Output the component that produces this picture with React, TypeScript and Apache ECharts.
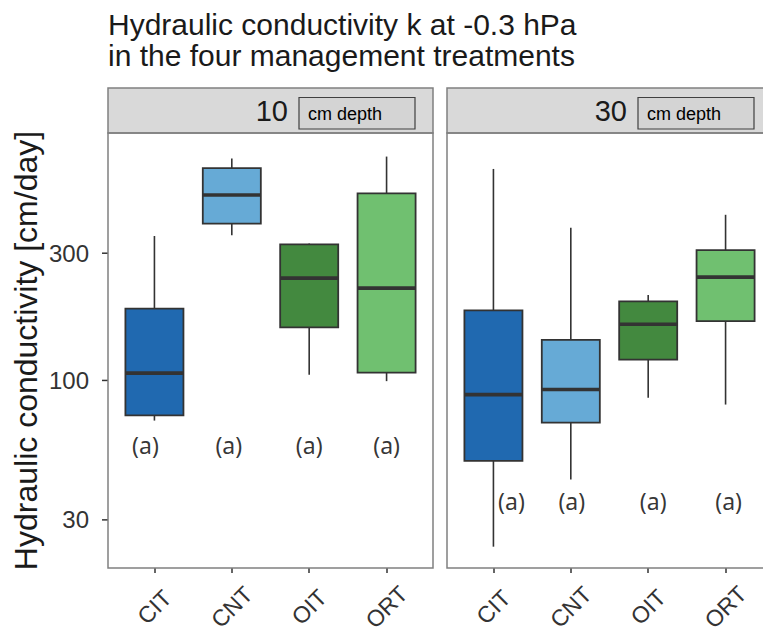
import React, { useEffect, useRef } from "react";
import * as echarts from "echarts";

const categories = ["CIT", "CNT", "OIT", "ORT"];
const boxColors = ["#2069b0", "#66aad6", "#43893f", "#70c070"];
// [min, Q1, median, Q3, max] in cm/day
const depth10 = [
  [70.7, 73.9, 106.5, 186, 348],
  [350, 387, 496, 625, 679],
  [105, 158, 242, 324, 326],
  [99.4, 107, 222, 503, 691],
];
const depth30 = [
  [23.8, 49.9, 88.5, 183, 621],
  [42.5, 69.5, 92.5, 142, 374],
  [86.1, 119.6, 162.4, 198, 209],
  [81.2, 167, 244, 308, 418],
];
const letters10 = ["(a)", "(a)", "(a)", "(a)"];
const letters30 = ["(a)", "(a)", "(a)", "(a)"];
const letterY10 = [57.4, 57.4, 57.4, 57.4];
const letterY30 = [35.4, 35.4, 35.4, 35.4];
const yTicks = [30, 100, 300];
const yTickLabels = ["30", "100", "300"];
const facetLabels = ["10", "30"];
const stripNote = "cm depth";

const FONT = "'Liberation Sans', Arial, Helvetica, sans-serif";

export default function App() {
  const ref = useRef<HTMLDivElement>(null);
  useEffect(() => {
    if (!ref.current) return;
    const chart = echarts.init(ref.current, null, { renderer: "svg" });

    const renderBox = (params: any, api: any) => {
      const x = api.value(0);
      const mn = api.value(1);
      const q1 = api.value(2);
      const md = api.value(3);
      const q3 = api.value(4);
      const mx = api.value(5);
      const band = api.size([1, 100], [x, 100])[0];
      const hw = band * 0.375;
      const pMin = api.coord([x, mn]);
      const pQ1 = api.coord([x, q1]);
      const pMd = api.coord([x, md]);
      const pQ3 = api.coord([x, q3]);
      const pMax = api.coord([x, mx]);
      const cx = pMd[0];
      const stroke = "#333333";
      return {
        type: "group",
        children: [
          { type: "line", shape: { x1: cx, y1: pMax[1], x2: cx, y2: pQ3[1] }, style: { stroke, lineWidth: 1.6 } },
          { type: "line", shape: { x1: cx, y1: pQ1[1], x2: cx, y2: pMin[1] }, style: { stroke, lineWidth: 1.6 } },
          {
            type: "rect",
            shape: { x: cx - hw, y: pQ3[1], width: 2 * hw, height: pQ1[1] - pQ3[1] },
            style: { fill: boxColors[x], stroke, lineWidth: 1.8 },
          },
          { type: "line", shape: { x1: cx - hw, y1: pMd[1], x2: cx + hw, y2: pMd[1] }, style: { stroke, lineWidth: 3.6 } },
        ],
      };
    };

    const panelW = 325;
    const unit = panelW / 4.2;
    const panels = [108, 447];
    const top = 133;
    const height = 435;

    const grids = panels.map((l) => ({
      left: l + unit * 0.6 - unit * 0.5,
      top,
      width: unit * 4,
      height,
      outerBoundsMode: "none",
    }));

    const xAxes = [0, 1].map((g) => ({
      type: "category",
      gridIndex: g,
      data: categories,
      boundaryGap: true,
      axisLine: { show: false },
      axisTick: { show: true, alignWithLabel: true, length: 5, lineStyle: { color: "#333", width: 1.5 } },
      axisLabel: {
        rotate: 45,
        interval: 0,
        fontSize: 23,
        color: "#333",
        margin: 39,
        align: "center",
        verticalAlign: "middle",
        fontFamily: FONT,
      },
      splitLine: { show: false },
    }));

    const yAxes = [0, 1].map((g) => ({
      type: "log",
      gridIndex: g,
      min: 19.8,
      max: 847,
      offset: unit * 0.1,
      axisLine: { show: false },
      axisTick: { show: false },
      axisLabel: { show: false },
      splitLine: { show: false },
      minorTick: { show: false },
      name: g === 0 ? "Hydraulic conductivity [cm/day]" : "",
      nameLocation: "middle",
      nameGap: 66,
      nameTextStyle: { fontSize: 32, color: "#1a1a1a", fontFamily: FONT },
    }));

    const graphic: any[] = [];
    panels.forEach((l, i) => {
      graphic.push({
        type: "rect",
        shape: { x: l, y: top, width: panelW, height },
        style: { fill: "none", stroke: "#808080", lineWidth: 1.5 },
        z: 10,
      });
      graphic.push({
        type: "rect",
        shape: { x: l, y: 88, width: panelW, height: 45 },
        style: { fill: "#d9d9d9", stroke: "#808080", lineWidth: 1.5 },
      });
      graphic.push({
        type: "text",
        x: l + 180,
        y: 111,
        style: {
          text: facetLabels[i],
          fontSize: 29,
          fill: "#1a1a1a",
          align: "right",
          verticalAlign: "middle",
          fontFamily: FONT,
        },
      });
      graphic.push({
        type: "rect",
        shape: { x: l + 191, y: 97.5, width: 116, height: 31.5 },
        style: { fill: "#d4d4d4", stroke: "#404040", lineWidth: 1.2 },
      });
      graphic.push({
        type: "text",
        x: l + 200,
        y: 113.5,
        style: {
          text: stripNote,
          fontSize: 18,
          fill: "#000",
          align: "left",
          verticalAlign: "middle",
          fontFamily: FONT,
        },
      });
    });

    const dx10 = [-9, -3, 0, 0];
    const dx30 = [18, 1, 5, 3];

    const letterSeries = (g: number, letters: string[], ys: number[], dxs: number[]) => ({
      type: "scatter",
      xAxisIndex: g,
      yAxisIndex: g,
      symbolSize: 1,
      itemStyle: { color: "transparent" },
      silent: true,
      data: letters.map((t, i) => ({
        value: [i, ys[i]],
        label: {
          show: true,
          formatter: t,
          position: "inside",
          offset: [dxs[i], 0],
          fontSize: 23,
          color: "#000",
          fontFamily: "'Noto Sans', 'Open Sans', sans-serif",
        },
      })),
    });

    chart.setOption({
      animation: false,
      backgroundColor: "#ffffff",
      textStyle: { fontFamily: FONT },
      title: {
        text: "Hydraulic conductivity k at -0.3 hPa\nin the four management treatments",
        left: 108,
        top: 9,
        padding: 0,
        textStyle: { fontSize: 30, lineHeight: 31, fontWeight: "normal", color: "#1a1a1a", fontFamily: FONT },
      },
      grid: grids,
      xAxis: xAxes,
      yAxis: yAxes,
      graphic,
      series: [
        {
          type: "custom",
          xAxisIndex: 0,
          yAxisIndex: 0,
          renderItem: renderBox,
          encode: { x: 0, y: [1, 2, 3, 4, 5] },
          data: depth10.map((d, i) => [i, ...d]),
        },
        {
          type: "custom",
          xAxisIndex: 1,
          yAxisIndex: 1,
          renderItem: renderBox,
          encode: { x: 0, y: [1, 2, 3, 4, 5] },
          data: depth30.map((d, i) => [i, ...d]),
        },
        letterSeries(0, letters10, letterY10, dx10),
        letterSeries(1, letters30, letterY30, dx30),
      ],
    });

    // y ticks and tick labels placed through the y axis (log) scale
    const yTickGraphics: any[] = [];
    yTicks.forEach((v, i) => {
      const py = chart.convertToPixel({ yAxisIndex: 0 }, v) as number;
      yTickGraphics.push({
        type: "line",
        shape: { x1: panels[0] - 6, y1: py, x2: panels[0], y2: py },
        style: { stroke: "#333", lineWidth: 1.5 },
      });
      yTickGraphics.push({
        type: "text",
        x: panels[0] - 19,
        y: py,
        style: {
          text: yTickLabels[i],
          fontSize: 24,
          fill: "#333",
          align: "right",
          verticalAlign: "middle",
          fontFamily: FONT,
        },
      });
    });
    chart.setOption({ graphic: [...graphic, ...yTickGraphics] });

    return () => chart.dispose();
  }, []);
  return (
    <div
      ref={ref}
      style={{ position: "fixed", left: 0, top: 0, width: 763, height: 629, background: "#fff" }}
    />
  );
}
